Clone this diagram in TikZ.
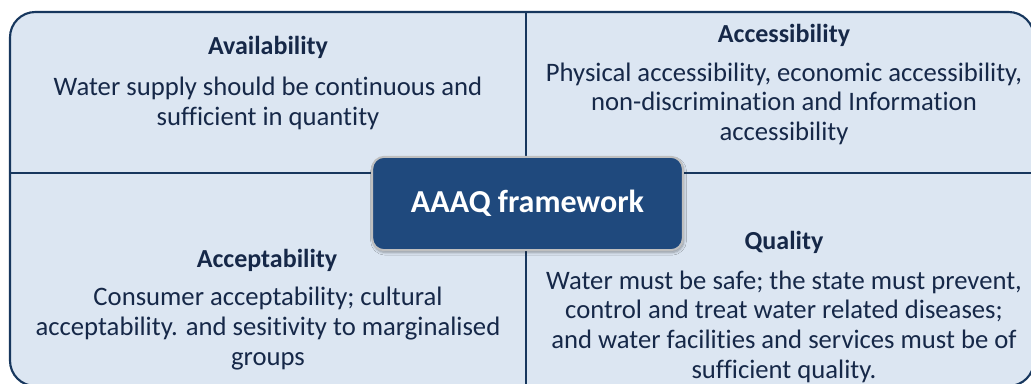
\documentclass[tikz,border=0pt]{standalone}
\usepackage{fontspec}
\setmainfont{Carlito}[Ligatures={NoCommon}]
\usetikzlibrary{shadows.blur}
\definecolor{paneblue}{RGB}{220,230,242}
\definecolor{framenavy}{RGB}{23,55,94}
\definecolor{textnavy}{RGB}{22,40,72}
\definecolor{hubblue}{RGB}{31,73,125}
\tikzset{
	qtitle/.style={font=\fontsize{19.5}{22}\selectfont\bfseries, text=textnavy, inner sep=0pt},
	qtext/.style={font=\fontsize{20}{22.2}\selectfont, text=textnavy, align=center, inner sep=0pt},
	hub/.style={
			draw=black!25, line width=1.5pt, fill=hubblue, rounded corners=9pt,
			minimum width=233pt, minimum height=70pt, text=white,
			font=\fontsize{24}{28}\selectfont\bfseries,
			blur shadow={shadow blur steps=6, shadow xshift=0.8pt, shadow yshift=-1.8pt, shadow opacity=35}
		}
}

\begin{document}
\begin{tikzpicture}[x=0.75pt, y=-0.75pt]
		\useasboundingbox (0,0) rectangle (1031,383);

		% outer frame and quadrants
		\draw [framenavy, line width=1.6pt, fill=paneblue, rounded corners=19pt]	(10,12) rectangle (1034,386);
		\draw [framenavy, line width=1.2pt]	(526,12) -- (526,386)
							(10,173) -- (1034,173);

		% centre box
		\node [hub] (aaaq) at (527.5,203.5) {AAAQ framework};

		% quadrants
		\node [qtitle] (avail) at (268,47) {Availability};
		\node [qtext] (availtxt) at (268,103.5) {Water supply should be continuous and\\sufficient in quantity};

		\node [qtitle] (access) at (784,35) {Accessibility};
		\node [qtext] (accesstxt) at (784,103.5) {Physical accessibility, economic accessibility,\\non-discrimination and Information\\accessibility};

		\node [qtitle] (accept) at (267,260) {Acceptability};
		\node [qtext] (accepttxt) at (268,328.5) {Consumer acceptability; cultural\\acceptability. and sesitivity to marginalised\\groups};

		\node [qtitle] (quality) at (784,242) {Quality};
		\node [qtext] (qualitytxt) at (784,326.5) {Water must be safe; the state must prevent,\\control and treat water related diseases;\\and water facilities and services must be of\\sufficient quality.};
	\end{tikzpicture}
\end{document}
